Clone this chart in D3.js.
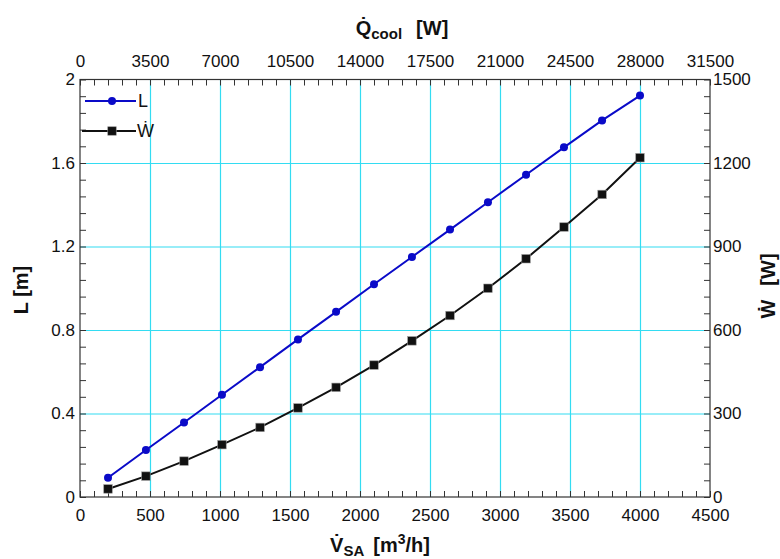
<!DOCTYPE html>
<html>
<head>
<meta charset="utf-8">
<script src="https://cdn.jsdelivr.net/npm/d3@7"></script>
<style>
  body { margin: 0; background: #fff; }
  text { font-family: "Liberation Sans", Arial, sans-serif; fill: #111; }
  .tick text { font-size: 17px; }
  .axis path { display: none; }
  .axis line { stroke: #333; }
  .grid line { stroke: #33dcf2; stroke-width: 1.2; }
  .grid path { display: none; }
  .title { font-weight: bold; font-size: 20px; }
</style>
</head>
<body>
<div id="chart"></div>
<script>
// air flow V_SA [m3/h]
var vsa = [200, 471, 743, 1014, 1286, 1557, 1829, 2100, 2371, 2643, 2914, 3186, 3457, 3729, 4000];
// L [m] (left axis)
var lengthL = [0.092, 0.225, 0.357, 0.490, 0.622, 0.755, 0.887, 1.019, 1.150, 1.281, 1.412, 1.544, 1.675, 1.804, 1.923];
// W [W] (right axis)
var powerW = [29, 75, 129, 188, 250, 320, 394, 474, 561, 652, 750, 856, 970, 1087, 1219];

var bottomTicks = [0, 500, 1000, 1500, 2000, 2500, 3000, 3500, 4000, 4500];
var topTicks = [0, 3500, 7000, 10500, 14000, 17500, 21000, 24500, 28000, 31500];
var leftTicks = [0, 0.4, 0.8, 1.2, 1.6, 2];
var rightTicks = [0, 300, 600, 900, 1200, 1500];

(function () {

var width = 780, height = 559;
var margin = { left: 80, right: 710, top: 79.5, bottom: 497 };

var svg = d3.select('#chart').append('svg')
    .attr('width', width)
    .attr('height', height);

var x = d3.scaleLinear().domain([0, 4500]).range([margin.left, margin.right]);
var xTop = d3.scaleLinear().domain([0, 31500]).range([margin.left, margin.right]);
var yL = d3.scaleLinear().domain([0, 2]).range([margin.bottom, margin.top]);
var yW = d3.scaleLinear().domain([0, 1500]).range([margin.bottom, margin.top]);

var h = margin.bottom - margin.top, w = margin.right - margin.left;

// grid
svg.append('g').attr('class', 'grid')
    .attr('transform', 'translate(0,' + margin.bottom + ')')
    .call(d3.axisBottom(x).tickValues(bottomTicks.slice(1, -1)).tickSize(-h).tickFormat(''));
svg.append('g').attr('class', 'grid')
    .attr('transform', 'translate(' + margin.left + ',0)')
    .call(d3.axisLeft(yL).tickValues(leftTicks.slice(1, -1)).tickSize(-w).tickFormat(''));

// minor ticks, pointing inward
var minor = function (axis, values) {
    return axis.tickValues(values).tickSize(-6).tickFormat('');
};
svg.append('g').attr('class', 'axis')
    .attr('transform', 'translate(0,' + margin.bottom + ')')
    .call(minor(d3.axisBottom(x), d3.range(0, 4501, 100)));
svg.append('g').attr('class', 'axis')
    .attr('transform', 'translate(0,' + margin.top + ')')
    .call(minor(d3.axisTop(xTop), d3.range(0, 31501, 700)));
svg.append('g').attr('class', 'axis')
    .attr('transform', 'translate(' + margin.left + ',0)')
    .call(minor(d3.axisLeft(yL), d3.range(0, 2.001, 0.08)));
svg.append('g').attr('class', 'axis')
    .attr('transform', 'translate(' + margin.right + ',0)')
    .call(minor(d3.axisRight(yW), d3.range(0, 1501, 60)));

// labels
svg.append('g').attr('class', 'axis')
    .attr('transform', 'translate(0,' + margin.bottom + ')')
    .call(d3.axisBottom(x).tickValues(bottomTicks).tickSize(0).tickPadding(12).tickFormat(d3.format('d')));
svg.append('g').attr('class', 'axis')
    .attr('transform', 'translate(0,' + margin.top + ')')
    .call(d3.axisTop(xTop).tickValues(topTicks).tickSize(0).tickPadding(13).tickFormat(d3.format('d')));
svg.append('g').attr('class', 'axis')
    .attr('transform', 'translate(' + margin.left + ',0)')
    .call(d3.axisLeft(yL).tickValues(leftTicks).tickSize(0).tickPadding(5).tickFormat(d3.format('~g')));
svg.append('g').attr('class', 'axis')
    .attr('transform', 'translate(' + margin.right + ',0)')
    .call(d3.axisRight(yW).tickValues(rightTicks).tickSize(0).tickPadding(3).tickFormat(d3.format('d')));

// frame
svg.append('rect')
    .attr('x', margin.left).attr('y', margin.top)
    .attr('width', w).attr('height', h)
    .attr('fill', 'none').attr('stroke', '#333').attr('stroke-width', 1.2);

// series
var idx = d3.range(vsa.length);

var lineL = d3.line().x(i => x(vsa[i])).y(i => yL(lengthL[i]));
var lineW = d3.line().x(i => x(vsa[i])).y(i => yW(powerW[i]));

svg.append('path').attr('d', lineW(idx))
    .attr('fill', 'none').attr('stroke', '#111').attr('stroke-width', 2);
svg.selectAll('.sq').data(idx).enter().append('rect')
    .attr('class', 'sq')
    .attr('x', i => x(vsa[i]) - 4.25).attr('y', i => yW(powerW[i]) - 4.25)
    .attr('width', 8.5).attr('height', 8.5)
    .attr('fill', '#111').attr('stroke', '#999').attr('stroke-width', 0.6);

svg.append('path').attr('d', lineL(idx))
    .attr('fill', 'none').attr('stroke', '#0a0ac8').attr('stroke-width', 2);
svg.selectAll('.dot').data(idx).enter().append('circle')
    .attr('class', 'dot')
    .attr('cx', i => x(vsa[i])).attr('cy', i => yL(lengthL[i]))
    .attr('r', 4)
    .attr('fill', '#0a0ac8');

// legend
var leg = svg.append('g');
leg.append('line').attr('x1', 85).attr('x2', 136).attr('y1', 101).attr('y2', 101)
    .attr('stroke', '#0a0ac8').attr('stroke-width', 2);
leg.append('circle').attr('cx', 112).attr('cy', 101).attr('r', 4).attr('fill', '#0a0ac8');
leg.append('text').attr('x', 138).attr('y', 107).style('font-size', '18px').text('L');

leg.append('line').attr('x1', 82).attr('x2', 136).attr('y1', 131).attr('y2', 131)
    .attr('stroke', '#111').attr('stroke-width', 2);
leg.append('rect').attr('x', 107.75).attr('y', 126.75).attr('width', 8.5).attr('height', 8.5)
    .attr('fill', '#111').attr('stroke', '#999').attr('stroke-width', 0.6);
leg.append('text').attr('x', 137).attr('y', 137).style('font-size', '18px').text('W\u0307');

// axis titles
var tTop = svg.append('text').attr('class', 'title')
    .attr('x', 402).attr('y', 35).attr('text-anchor', 'middle');
tTop.append('tspan').text('Q\u0307');
tTop.append('tspan').attr('dy', 4).style('font-size', '15px').text('cool');
tTop.append('tspan').attr('dy', -4).attr('dx', 14).text('[W]');

var tBot = svg.append('text').attr('class', 'title')
    .attr('x', 380).attr('y', 552).attr('text-anchor', 'middle');
tBot.append('tspan').text('V\u0307');
tBot.append('tspan').attr('dy', 4).style('font-size', '15px').text('SA');
tBot.append('tspan').attr('dy', -4).attr('dx', 9).text('[m');
tBot.append('tspan').attr('dy', -8).style('font-size', '14px').text('3');
tBot.append('tspan').attr('dy', 8).text('/h]');

svg.append('text').attr('class', 'title')
    .attr('transform', 'translate(28,290) rotate(-90)')
    .attr('text-anchor', 'middle').text('L [m]');

var tRight = svg.append('text').attr('class', 'title')
    .attr('transform', 'translate(775,286) rotate(-90)')
    .attr('text-anchor', 'middle');
tRight.append('tspan').text('W\u0307');
tRight.append('tspan').attr('dx', 14).text('[W]');

})();
</script>
</body>
</html>
